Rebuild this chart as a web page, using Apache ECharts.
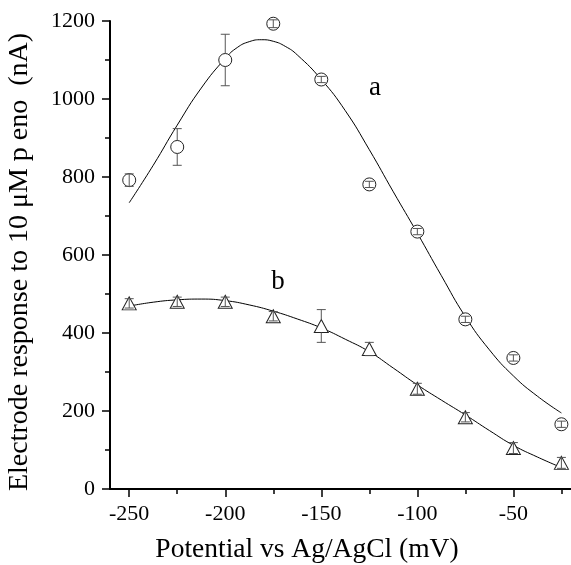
<!DOCTYPE html>
<html>
<head>
<meta charset="utf-8">
<script src="https://cdn.jsdelivr.net/npm/echarts@6/dist/echarts.min.js"></script>
<style>html,body{margin:0;padding:0;background:#fff}#c{width:571px;height:565px}</style>
</head>
<body>
<div id="c"></div>
<script>
// measured points
const potentials = [-250, -225, -200, -175, -150, -125, -100, -75, -50, -25];
const seriesA = [792, 877, 1100, 1193, 1050, 781, 660, 435, 336, 166];
const errA = [16, 47, 66, 10, 8, 8, 8, 8, 8, 8];
const seriesB = [476, 480, 480, 443, 418, 359, 257, 184, 105, 67];
const errB = [12, 12, 12, 12, 42, 17, 14, 12, 14, 14];
// fitted curves
const fitAX = [-250, -237.5, -225, -212.5, -200, -193.75, -187.5, -181.25, -175, -168.75, -162.5, -150, -137.5, -125, -112.5, -100, -87.5, -75, -62.5, -50, -37.5, -25];
const fitA = [734, 830, 933, 1028, 1104, 1132, 1147, 1152, 1148, 1135, 1113, 1050, 970, 870, 762, 656, 547, 442, 357, 290, 238, 195];
const fitBX = [-250, -237.5, -225, -212.5, -200, -187.5, -175, -162.5, -150, -137.5, -125, -112.5, -100, -87.5, -75, -62.5, -50, -37.5, -25];
const fitB = [469, 479, 485, 487, 483, 472, 456, 436, 413, 384, 352, 310, 267, 228, 190, 150, 112, 82, 55];
// tick labels
const xMajor = [-250, -200, -150, -100, -50];
const xMinor = [-225, -175, -125, -75, -25];
const xTitle = 'Potential vs Ag/AgCl (mV)';
const yTitle = 'Electrode response to 10 \u03bcM p eno  (nA)';

const FONT = '"Liberation Serif","Times New Roman",serif';
const chart = echarts.init(document.getElementById('c'), null, {renderer: 'canvas'});

function errRender(radius) {
  return function (params, api) {
    const x = api.value(0), y = api.value(1), e = api.value(2);
    const c = api.coord([x, y]);
    const t = api.coord([x, y + e]);
    const b = api.coord([x, y - e]);
    const hw = 4.5;
    const st = {stroke: '#555', lineWidth: 1, fill: null};
    const ch = [
      {type: 'line', shape: {x1: c[0] - hw, y1: t[1], x2: c[0] + hw, y2: t[1]}, style: st},
      {type: 'line', shape: {x1: c[0] - hw, y1: b[1], x2: c[0] + hw, y2: b[1]}, style: st}
    ];
    if (c[1] - t[1] > radius) {
      ch.push({type: 'line', shape: {x1: c[0], y1: t[1], x2: c[0], y2: c[1] - radius}, style: st});
      ch.push({type: 'line', shape: {x1: c[0], y1: c[1] + radius, x2: c[0], y2: b[1]}, style: st});
    } else {
      ch.push({type: 'line', shape: {x1: c[0], y1: t[1], x2: c[0], y2: b[1]}, style: st});
    }
    return {type: 'group', children: ch};
  };
}

const option = {
  animation: false,
  backgroundColor: '#fff',
  grid: {left: 110, right: -1, top: 21, bottom: 76},
  xAxis: [{
    type: 'value', min: -260, max: -20,
    axisLine: {show: true, onZero: false, lineStyle: {color: '#000', width: 2}},
    axisTick: {show: true, customValues: xMajor, length: 8, lineStyle: {color: '#000', width: 1.5}},
    axisLabel: {customValues: xMajor, fontFamily: FONT, fontSize: 22, color: '#000', margin: 14},
    splitLine: {show: false}
  }, {
    type: 'value', min: -260, max: -20, position: 'bottom',
    axisLine: {show: false},
    axisTick: {show: true, customValues: xMinor, length: 5, lineStyle: {color: '#000', width: 1.5}},
    axisLabel: {show: false},
    splitLine: {show: false}
  }],
  yAxis: {
    type: 'value', min: 0, max: 1200, interval: 200,
    axisLine: {show: true, lineStyle: {color: '#000', width: 2}},
    axisTick: {show: true, length: 8, lineStyle: {color: '#000', width: 1.5}},
    minorTick: {show: true, splitNumber: 2, length: 5, lineStyle: {color: '#000', width: 1.5}},
    axisLabel: {fontFamily: FONT, fontSize: 22, color: '#000', margin: 15, formatter: v => String(v)},
    splitLine: {show: false}, minorSplitLine: {show: false}
  },
  series: [
    {type: 'line', data: fitAX.map((x, i) => [x, fitA[i]]), smooth: true, symbol: 'none',
     lineStyle: {color: '#000', width: 1}, z: 2},
    {type: 'line', data: fitBX.map((x, i) => [x, fitB[i]]), smooth: true, symbol: 'none',
     lineStyle: {color: '#000', width: 1}, z: 2},
    {type: 'scatter', data: potentials.map((x, i) => [x, seriesA[i]]), symbol: 'circle', symbolSize: 13,
     itemStyle: {color: '#fff', borderColor: '#222', borderWidth: 1, opacity: 1}, z: 3},
    {type: 'scatter', data: potentials.map((x, i) => [x, seriesB[i]]), symbol: 'triangle', symbolSize: [14, 13],
     itemStyle: {color: '#fff', borderColor: '#222', borderWidth: 1, opacity: 1}, z: 3},
    {type: 'custom', data: potentials.map((x, i) => [x, seriesA[i], errA[i]]), renderItem: errRender(6.5),
     encode: {x: 0, y: 1}, z: 4, silent: true},
    {type: 'custom', data: potentials.map((x, i) => [x, seriesB[i], errB[i]]), renderItem: errRender(6.5),
     encode: {x: 0, y: 1}, z: 4, silent: true}
  ],
  graphic: [
    {type: 'text', x: 307, y: 550, style: {text: xTitle, fontFamily: FONT, fontSize: 27.5, fill: '#000', align: 'center', verticalAlign: 'middle'}},
    {type: 'text', x: 20, y: 262, rotation: Math.PI / 2, style: {text: yTitle, fontFamily: FONT, fontSize: 28, fill: '#000', align: 'center', verticalAlign: 'middle'}},
    {type: 'text', x: 375, y: 88, style: {text: 'a', fontFamily: FONT, fontSize: 27, fill: '#000', align: 'center', verticalAlign: 'middle'}},
    {type: 'text', x: 278, y: 282, style: {text: 'b', fontFamily: FONT, fontSize: 27, fill: '#000', align: 'center', verticalAlign: 'middle'}}
  ]
};
chart.setOption(option);
</script>
</body>
</html>
